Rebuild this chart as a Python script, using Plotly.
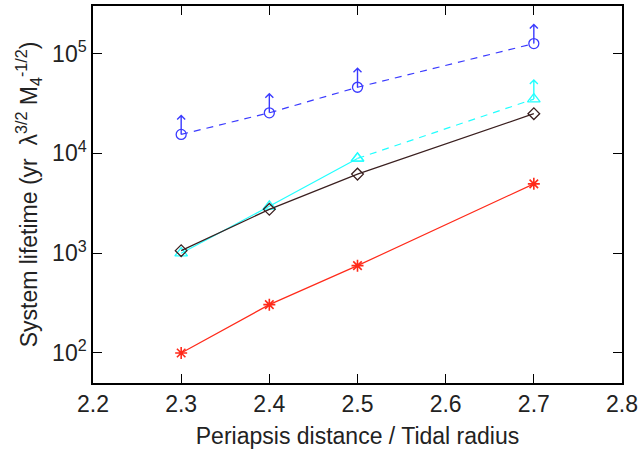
import plotly.graph_objects as go
import numpy as np

x_vals = [2.3, 2.4, 2.5, 2.7]
blue_vals = [15500, 25500, 46000, 126000]
cyan_vals = [1000, 2950, 8900, 35000]
black_vals = [1060, 2750, 6200, 25000]
red_vals = [100, 305, 750, 4950]

x_ticks = [2.2, 2.3, 2.4, 2.5, 2.6, 2.7, 2.8]
y_ticks = [100, 1000, 10000, 100000]
y_ticktext = ["10<sup>2</sup>", "10<sup>3</sup>", "10<sup>4</sup>", "10<sup>5</sup>"]

BLUE = "#3a3aff"
CYAN = "#22ffff"
DARK = "#3a1f1f"
RED = "#ff2a1a"

fig = go.Figure()

fig.add_trace(go.Scatter(x=x_vals, y=blue_vals, mode="lines+markers",
                         line=dict(color=BLUE, width=1.2, dash="7px,6px"),
                         marker=dict(symbol="circle-open", size=10, color=BLUE, line=dict(width=1.3))))
fig.add_trace(go.Scatter(x=x_vals[:3], y=cyan_vals[:3], mode="lines+markers",
                         line=dict(color=CYAN, width=1.2),
                         marker=dict(symbol="triangle-up-open", size=11, color=CYAN, line=dict(width=1.3))))
fig.add_trace(go.Scatter(x=x_vals[2:], y=cyan_vals[2:], mode="lines+markers",
                         line=dict(color=CYAN, width=1.2, dash="7px,6px"),
                         marker=dict(symbol="triangle-up-open", size=11, color=CYAN, line=dict(width=1.3))))
fig.add_trace(go.Scatter(x=x_vals, y=black_vals, mode="lines+markers",
                         line=dict(color=DARK, width=1.2),
                         marker=dict(symbol="diamond-open", size=9, color=DARK, line=dict(width=1.3))))
fig.add_trace(go.Scatter(x=x_vals, y=red_vals, mode="lines+markers",
                         line=dict(color=RED, width=1.2),
                         marker=dict(symbol="asterisk-open", size=10, color=RED, line=dict(width=1.6))))

arrow_path = "M0,0 L0,19 M-4,15 L0,19 L4,15"
shapes = []
for xv, yv in zip(x_vals, blue_vals):
    shapes.append(dict(type="path", xref="x", yref="y", xsizemode="pixel", ysizemode="pixel",
                       xanchor=xv, yanchor=yv, path=arrow_path,
                       line=dict(color=BLUE, width=1.4)))
shapes.append(dict(type="path", xref="x", yref="y", xsizemode="pixel", ysizemode="pixel",
                   xanchor=x_vals[-1], yanchor=cyan_vals[-1], path=arrow_path,
                   line=dict(color=CYAN, width=1.4)))

FONT = "Liberation Sans, Arial, sans-serif"
axis_common = dict(showgrid=False, zeroline=False, showline=True, linecolor="black", linewidth=1.5,
                   mirror="allticks", ticks="inside", ticklen=9, tickwidth=1.3, tickcolor="black",
                   tickfont=dict(family=FONT, size=23, color="#222"))

fig.update_layout(
    width=642, height=468,
    margin=dict(l=93, r=18, t=4, b=85),
    paper_bgcolor="white", plot_bgcolor="white",
    showlegend=False,
    shapes=shapes,
    font=dict(family=FONT, color="#222"),
    xaxis=dict(range=[2.2, 2.8], tickmode="array", tickvals=x_ticks,
               ticktext=[f"{v:.1f}" for v in x_ticks],
               title=dict(text="Periapsis distance / Tidal radius", font=dict(size=23), standoff=12),
               **axis_common),
    yaxis=dict(type="log", range=[np.log10(50), np.log10(3e5)], tickmode="array",
               tickvals=y_ticks, ticktext=y_ticktext,
               title=dict(text="System lifetime (yr  λ<sup>3/2</sup> M<sub>4</sub><sup>-1/2</sup>)",
                          font=dict(size=23), standoff=8),
               **axis_common),
)

fig.write_html("out.html")
